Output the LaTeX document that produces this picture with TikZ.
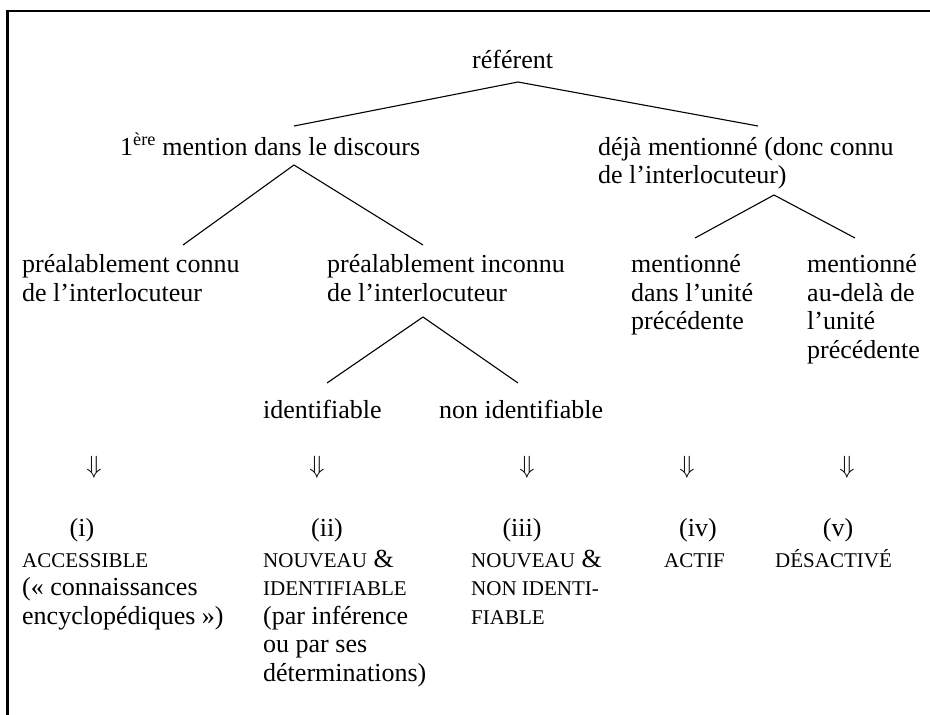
\documentclass[tikz,border=0pt]{standalone}
\usepackage{fontspec}
\setmainfont{Liberation Serif}
\usepackage{tikz}
\usetikzlibrary{positioning, calc}
\newcommand{\smcap}[1]{{\fontsize{21}{28.5}\selectfont #1}}

\begin{document}
\begin{tikzpicture}[x=1pt, y=-1pt,
    font=\fontsize{26}{28.5}\selectfont,
    txt/.style={anchor=base west, inner sep=0pt, align=left},
    branch/.style={line width=1.1pt}]
    \useasboundingbox (0,0) rectangle (930,715);

    % Frame
    \draw[line width=2.2pt] (930,11) -- (7.5,11) -- (7.5,715);

    % Root
    \node[txt] (ref) at (472,68) {référent};

    % First level (base = last line)
    \node[txt] (men1) at (120,155) {1\textsuperscript{ère} mention dans le discours};
    \node[txt] (deja) at (598,183.5) {déjà mentionné (donc connu\\de l’interlocuteur)};

    % Second level
    \node[txt] (pconnu) at (22,301) {préalablement connu\\de l’interlocuteur};
    \node[txt] (pinconnu) at (327,301) {préalablement inconnu\\de l’interlocuteur};
    \node[txt] (mprec) at (631,329.5) {mentionné\\dans l’unité\\précédente};
    \node[txt] (mdela) at (807,358) {mentionné\\au-delà de\\l’unité\\précédente};

    % Third level
    \node[txt] (ident) at (263,418) {identifiable};
    \node[txt] (nonident) at (439,418) {non identifiable};

    % Branch points
    \coordinate (ref-b) at (518,82);
    \coordinate (men1-t) at (294,126);
    \coordinate (deja-t) at (758,126);
    \coordinate (men1-b) at (294,165);
    \coordinate (pconnu-t) at (183,245);
    \coordinate (pinconnu-t) at (423,245);
    \coordinate (pinconnu-b) at (423,317);
    \coordinate (ident-t) at (327,383);
    \coordinate (nonident-t) at (518,383);
    \coordinate (deja-b) at (774,195);
    \coordinate (mprec-t) at (695,238);
    \coordinate (mdela-t) at (855,238);

    % Branches
    \draw[branch] (men1-t) -- (ref-b) -- (deja-t);
    \draw[branch] (pconnu-t) -- (men1-b) -- (pinconnu-t);
    \draw[branch] (ident-t) -- (pinconnu-b) -- (nonident-t);
    \draw[branch] (mprec-t) -- (deja-b) -- (mdela-t);

    % Implication arrows
    \node (arr1) at (94,467) {$\Downarrow$};
    \node (arr2) at (317,467) {$\Downarrow$};
    \node (arr3) at (527,467) {$\Downarrow$};
    \node (arr4) at (687,467) {$\Downarrow$};
    \node (arr5) at (847,467) {$\Downarrow$};

    % Numbering
    \node[anchor=base, inner sep=0pt] (num1) at (82,536) {(i)};
    \node[anchor=base, inner sep=0pt] (num2) at (327,536) {(ii)};
    \node[anchor=base, inner sep=0pt] (num3) at (522,536) {(iii)};
    \node[anchor=base, inner sep=0pt] (num4) at (698,536) {(iv)};
    \node[anchor=base, inner sep=0pt] (num5) at (838,536) {(v)};

    % Activation states (base = last line)
    \node[txt] (st1) at (22,624) {\smcap{ACCESSIBLE}\\(« connaissances\\encyclopédiques »)};
    \node[txt] (st2) at (263,681) {\smcap{NOUVEAU} \&\\\smcap{IDENTIFIABLE}\\(par inférence\\ou par ses\\déterminations)};
    \node[txt] (st3) at (471,624) {\smcap{NOUVEAU} \&\\\smcap{NON IDENTI-}\\\smcap{FIABLE}};
    \node[txt] (st4) at (664,567) {\smcap{ACTIF}};
    \node[txt] (st5) at (775,567) {\smcap{DÉSACTIVÉ}};
\end{tikzpicture}
\end{document}
